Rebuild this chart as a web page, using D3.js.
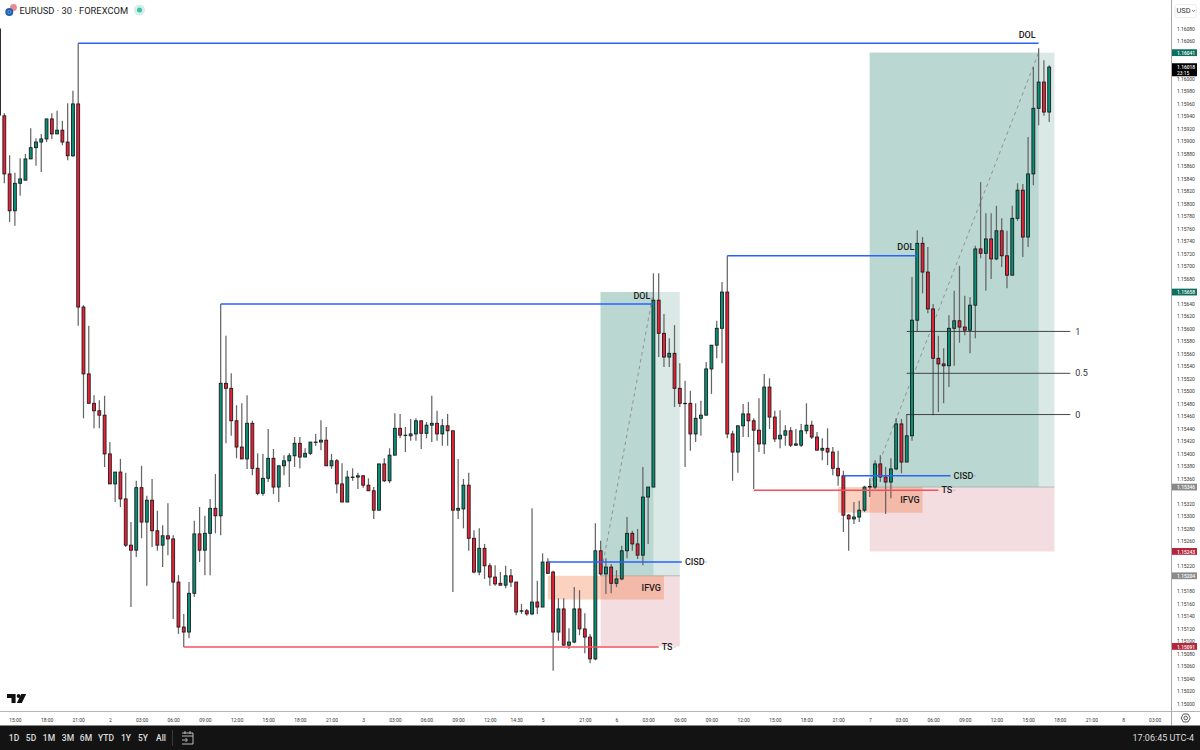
<!DOCTYPE html>
<html lang="en">
<head>
<meta charset="UTF-8">
<title>EURUSD 30</title>
<script src="https://cdn.jsdelivr.net/npm/d3@7"></script>
<style>
    html,body{margin:0;padding:0;background:#fff;}
    svg{display:block;font-family:Roboto,"Liberation Sans",sans-serif;}
    .axis text{font-family:Roboto,"Liberation Sans",sans-serif;font-size:6px;fill:#333;}
    .axis path,.axis line{display:none;}
    .tag{font-size:9px;font-weight:500;fill:#1c1c1c;}
    .range{font-size:8.5px;font-weight:500;fill:#ddd;text-anchor:middle;}
</style>
</head>
<body>
<script>
// candles, one per 30 minutes
const opens = [
1.16079,1.15940,1.15847,1.15788,1.15832,1.15837,1.15871,1.15889,1.15898,1.15903,
1.15935,1.15911,1.15917,1.15898,1.15876,1.15959,1.15634,1.15527,1.15480,1.15468,
1.15461,1.15399,1.15351,1.15370,1.15327,1.15253,1.15245,1.15345,1.15290,1.15325,
1.15276,1.15253,1.15268,1.15263,1.15194,1.15122,1.15114,1.15176,1.15271,1.15245,
1.15272,1.15312,1.15300,1.15512,1.15504,1.15452,1.15410,1.15391,1.15448,1.15376,
1.15336,1.15360,1.15392,1.15346,1.15380,1.15388,1.15396,1.15416,1.15394,1.15400,
1.15418,1.15418,1.15421,1.15380,1.15388,1.15351,1.15322,1.15362,1.15362,1.15364,
1.15349,1.15340,1.15309,1.15383,1.15356,1.15397,1.15440,1.15429,1.15428,1.15431,
1.15452,1.15432,1.15445,1.15448,1.15431,1.15444,1.15436,1.15309,1.15311,1.15349,
1.15264,1.15210,1.15248,1.15220,1.15202,1.15192,1.15189,1.15204,1.15194,1.15148,
1.15148,1.15143,1.15162,1.15154,1.15226,1.15210,1.15114,1.15151,1.15093,1.15098,
1.15151,1.15119,1.15106,1.15071,1.15244,1.15207,1.15218,1.15192,1.15199,1.15244,
1.15272,1.15255,1.15237,1.15330,1.15346,1.15645,1.15592,1.15554,1.15560,1.15504,
1.15480,1.15480,1.15431,1.15456,1.15461,1.15535,1.15573,1.15600,1.15658,1.15431,
1.15402,1.15444,1.15463,1.15452,1.15437,1.15415,1.15506,1.15458,1.15423,1.15429,
1.15436,1.15413,1.15413,1.15436,1.15445,1.15426,1.15405,1.15408,1.15402,1.15376,
1.15364,1.15301,1.15295,1.15298,1.15309,1.15346,1.15346,1.15383,1.15362,1.15354,
1.15375,1.15447,1.15386,1.15428,1.15613,1.15736,1.15690,1.15631,1.15552,1.15543,
1.15540,1.15600,1.15612,1.15602,1.15597,1.15637,1.15727,1.15720,1.15743,1.15711,
1.15756,1.15716,1.15685,1.15776,1.15821,1.15746,1.15847,1.15952,1.15994,1.15946];
const highs = [
1.16079,1.15944,1.15877,1.15849,1.15872,1.15879,1.15920,1.15904,1.15911,1.15935,
1.15944,1.15948,1.15932,1.15960,1.15980,1.16056,1.15637,1.15604,1.15493,1.15485,
1.15492,1.15418,1.15370,1.15391,1.15369,1.15290,1.15356,1.15380,1.15332,1.15359,
1.15308,1.15285,1.15320,1.15269,1.15205,1.15143,1.15194,1.15292,1.15314,1.15300,
1.15327,1.15367,1.15639,1.15588,1.15528,1.15477,1.15480,1.15493,1.15452,1.15400,
1.15399,1.15439,1.15407,1.15380,1.15397,1.15400,1.15426,1.15426,1.15408,1.15418,
1.15431,1.15453,1.15442,1.15399,1.15391,1.15384,1.15372,1.15376,1.15369,1.15365,
1.15360,1.15346,1.15383,1.15392,1.15408,1.15464,1.15463,1.15442,1.15455,1.15456,
1.15452,1.15450,1.15492,1.15468,1.15455,1.15463,1.15436,1.15391,1.15359,1.15369,
1.15277,1.15280,1.15255,1.15224,1.15221,1.15210,1.15220,1.15215,1.15194,1.15159,
1.15151,1.15312,1.15196,1.15240,1.15232,1.15212,1.15168,1.15168,1.15120,1.15186,
1.15181,1.15144,1.15111,1.15288,1.15260,1.15232,1.15223,1.15213,1.15252,1.15298,
1.15276,1.15279,1.15378,1.15346,1.15688,1.15688,1.15623,1.15584,1.15605,1.15544,
1.15516,1.15500,1.15480,1.15484,1.15546,1.15573,1.15612,1.15674,1.15716,1.15436,
1.15444,1.15479,1.15482,1.15456,1.15488,1.15527,1.15520,1.15468,1.15469,1.15445,
1.15442,1.15439,1.15447,1.15480,1.15452,1.15434,1.15424,1.15440,1.15410,1.15404,
1.15372,1.15303,1.15322,1.15324,1.15348,1.15360,1.15389,1.15397,1.15378,1.15392,
1.15456,1.15455,1.15463,1.15682,1.15757,1.15746,1.15730,1.15639,1.15588,1.15568,
1.15621,1.15660,1.15700,1.15652,1.15650,1.15732,1.15834,1.15784,1.15784,1.15796,
1.15776,1.15756,1.15796,1.15832,1.15831,1.15906,1.16018,1.16048,1.16029,1.16021];
const lows = [
1.15941,1.15832,1.15770,1.15764,1.15812,1.15837,1.15871,1.15860,1.15850,1.15898,
1.15903,1.15911,1.15893,1.15869,1.15874,1.15604,1.15456,1.15480,1.15440,1.15440,
1.15378,1.15351,1.15322,1.15314,1.15250,1.15154,1.15234,1.15264,1.15188,1.15250,
1.15244,1.15218,1.15237,1.15135,1.15111,1.15090,1.15104,1.15170,1.15226,1.15205,
1.15205,1.15272,1.15269,1.15416,1.15428,1.15392,1.15391,1.15375,1.15365,1.15333,
1.15332,1.15354,1.15335,1.15322,1.15365,1.15346,1.15378,1.15376,1.15394,1.15397,
1.15412,1.15405,1.15380,1.15375,1.15336,1.15322,1.15322,1.15356,1.15343,1.15345,
1.15340,1.15295,1.15309,1.15354,1.15352,1.15397,1.15424,1.15402,1.15420,1.15420,
1.15407,1.15424,1.15418,1.15420,1.15412,1.15412,1.15178,1.15295,1.15280,1.15244,
1.15208,1.15205,1.15199,1.15188,1.15188,1.15188,1.15184,1.15186,1.15141,1.15143,
1.15140,1.15141,1.15143,1.15154,1.15207,1.15052,1.15100,1.15093,1.15087,1.15096,
1.15109,1.15080,1.15064,1.15069,1.15205,1.15175,1.15176,1.15186,1.15197,1.15232,
1.15244,1.15231,1.15221,1.15255,1.15346,1.15554,1.15538,1.15538,1.15474,1.15474,
1.15378,1.15404,1.15418,1.15428,1.15461,1.15495,1.15552,1.15544,1.15424,1.15356,
1.15369,1.15426,1.15426,1.15343,1.15402,1.15399,1.15439,1.15418,1.15408,1.15412,
1.15410,1.15412,1.15410,1.15431,1.15423,1.15405,1.15389,1.15381,1.15365,1.15348,
1.15274,1.15244,1.15287,1.15290,1.15306,1.15330,1.15343,1.15354,1.15303,1.15328,
1.15373,1.15368,1.15386,1.15420,1.15594,1.15656,1.15624,1.15461,1.15466,1.15480,
1.15506,1.15540,1.15577,1.15589,1.15560,1.15584,1.15712,1.15660,1.15679,1.15709,
1.15698,1.15664,1.15685,1.15772,1.15714,1.15730,1.15829,1.15925,1.15940,1.15930];
const closes = [
1.15941,1.15847,1.15788,1.15832,1.15839,1.15871,1.15889,1.15898,1.15903,1.15935,
1.15911,1.15917,1.15898,1.15876,1.15959,1.15634,1.15527,1.15480,1.15468,1.15461,
1.15399,1.15351,1.15370,1.15327,1.15253,1.15245,1.15345,1.15290,1.15325,1.15276,
1.15253,1.15268,1.15263,1.15194,1.15122,1.15114,1.15176,1.15271,1.15245,1.15272,
1.15312,1.15300,1.15512,1.15504,1.15452,1.15410,1.15391,1.15448,1.15376,1.15336,
1.15360,1.15392,1.15346,1.15380,1.15388,1.15396,1.15416,1.15394,1.15400,1.15418,
1.15418,1.15421,1.15380,1.15388,1.15351,1.15322,1.15362,1.15362,1.15364,1.15349,
1.15340,1.15309,1.15383,1.15356,1.15397,1.15440,1.15429,1.15429,1.15431,1.15452,
1.15432,1.15445,1.15448,1.15431,1.15444,1.15436,1.15309,1.15312,1.15349,1.15264,
1.15210,1.15248,1.15220,1.15202,1.15191,1.15189,1.15204,1.15194,1.15146,1.15148,
1.15143,1.15162,1.15154,1.15226,1.15208,1.15114,1.15151,1.15093,1.15098,1.15151,
1.15119,1.15106,1.15071,1.15244,1.15207,1.15218,1.15192,1.15199,1.15244,1.15272,
1.15255,1.15237,1.15330,1.15346,1.15645,1.15592,1.15554,1.15560,1.15504,1.15480,
1.15480,1.15431,1.15456,1.15461,1.15535,1.15573,1.15600,1.15658,1.15431,1.15402,
1.15444,1.15463,1.15452,1.15437,1.15415,1.15506,1.15458,1.15423,1.15429,1.15436,
1.15413,1.15415,1.15436,1.15445,1.15426,1.15405,1.15408,1.15402,1.15376,1.15364,
1.15301,1.15295,1.15298,1.15309,1.15346,1.15347,1.15383,1.15362,1.15354,1.15375,
1.15447,1.15386,1.15428,1.15613,1.15736,1.15690,1.15631,1.15552,1.15543,1.15540,
1.15600,1.15612,1.15602,1.15597,1.15637,1.15727,1.15720,1.15743,1.15711,1.15756,
1.15716,1.15685,1.15776,1.15821,1.15746,1.15847,1.15952,1.15994,1.15946,1.16018];

// time axis, position is the candle number
const timeTickBars = [3,9,15,21,27,33,39,45,51,57,63,69,75,81,87,93,98,103,111,117,123,129,135,141,147,153,159,165,171,177,183,189,195,201,207,213,219];
const timeTickLabels = ['15:00','18:00','21:00','2','03:00','06:00','09:00','12:00','15:00','18:00','21:00','3','03:00','06:00','09:00','12:00','14:30','5','21:00','6','03:00','06:00','09:00','12:00','15:00','18:00','21:00','7','03:00','06:00','09:00','12:00','15:00','18:00','21:00','8','03:00'];

// long position tools
const toolFrom = [114,165];
const toolTo = [129,200];
const toolFilledTo = [124,197];
const toolTarget = [1.15658,1.16041];
const toolEntry = [1.15204,1.15346];
const toolStop = [1.15091,1.15243];

// fair value gap boxes
const gapFrom = [104,159];
const gapTo = [126,175];
const gapTop = [1.15204,1.15346];
const gapBottom = [1.15166,1.15305];
const gapNames = ['IFVG','IFVG'];

// horizontal levels
const levelNames = ['DOL','DOL','DOL','CISD','CISD','TS','TS'];
const levelFrom = [15,42,138,104,160,35,143];
const levelTo = [197,124,174,129.4,180.3,125,178];
const levelPrice = [1.16056,1.15639,1.15716,1.15226,1.15364,1.15090,1.15341];

// fib levels
const fibNames = ['1','0.5','0'];
const fibPrice = [1.15595,1.15528,1.15462];
const fibFrom = 172;
const fibTo = 203;

// price scale tags
const tagPrices = [1.16041,1.15658,1.15346,1.15243,1.15204,1.15091];
const tagKinds = ['target','target','entry','stop','entry','stop'];
const lastPrice = 1.16018;
const lastCountdown = '23:15';

const rangeButtons = ['1D','5D','1M','3M','6M','YTD','1Y','5Y','All'];
const rangeButtonX = [14,31,49,68,86,106,126,143,161];

var width = 1200, height = 750;
var axisX = 1171.5, axisY = 711.5, barTop = 725.5;
var up = '#0a8f77', down = '#ea2239';
var tagColor = {target:'#0d6e5e', entry:'#8a8a8a', stop:'#b3263a'};

var x = d3.scaleLinear().domain([0,199]).range([-0.95,1049.2]);
var y = d3.scaleLinear().domain([1.15,1.1608]).range([703.3,28.3]);

var svg = d3.select('body').append('svg').attr('width',width).attr('height',height);

// the scale font is narrower than Roboto, squeeze the small labels to fit
function squeeze(sel){
    sel.each(function(){
        d3.select(this).attr('textLength',this.getComputedTextLength()*0.82).attr('lengthAdjust','spacingAndGlyphs');
    });
}

/***** long position tools *****/
var tools = d3.range(toolFrom.length);
svg.append('g').selectAll('rect').data(tools).enter().append('rect')
    .attr('x',function(i){return x(toolFrom[i])})
    .attr('y',function(i){return y(toolTarget[i])})
    .attr('width',function(i){return x(toolTo[i])-x(toolFrom[i])})
    .attr('height',function(i){return y(toolEntry[i])-y(toolTarget[i])})
    .attr('fill','#dae9e5');
svg.append('g').selectAll('rect').data(tools).enter().append('rect')
    .attr('x',function(i){return x(toolFrom[i])})
    .attr('y',function(i){return y(toolTarget[i])})
    .attr('width',function(i){return x(toolFilledTo[i])-x(toolFrom[i])})
    .attr('height',function(i){return y(toolEntry[i])-y(toolTarget[i])})
    .attr('fill','#bbd7d1');
svg.append('g').selectAll('rect').data(tools).enter().append('rect')
    .attr('x',function(i){return x(toolFrom[i])})
    .attr('y',function(i){return y(toolEntry[i])})
    .attr('width',function(i){return x(toolTo[i])-x(toolFrom[i])})
    .attr('height',function(i){return y(toolStop[i])-y(toolEntry[i])})
    .attr('fill','#f4dde0');
svg.append('g').selectAll('line').data(tools).enter().append('line')
    .attr('x1',function(i){return x(toolFrom[i])})
    .attr('y1',function(i){return y(toolEntry[i])})
    .attr('x2',function(i){return x(toolFilledTo[i])})
    .attr('y2',function(i){return y(toolTarget[i])})
    .attr('stroke','#929292')
    .attr('stroke-width',1)
    .attr('stroke-dasharray','3.5,3.5');
svg.append('g').selectAll('line').data(tools).enter().append('line')
    .attr('x1',function(i){return x(toolFrom[i])})
    .attr('y1',function(i){return y(toolEntry[i])})
    .attr('x2',function(i){return x(toolTo[i])})
    .attr('y2',function(i){return y(toolEntry[i])})
    .attr('stroke','#9fb0ab')
    .attr('stroke-width',0.8);

/***** gap boxes *****/
svg.append('g').selectAll('rect').data(d3.range(gapFrom.length)).enter().append('rect')
    .attr('x',function(i){return x(gapFrom[i])})
    .attr('y',function(i){return y(gapTop[i])})
    .attr('width',function(i){return x(gapTo[i])-x(gapFrom[i])})
    .attr('height',function(i){return y(gapBottom[i])-y(gapTop[i])})
    .attr('fill','#f26b2a')
    .attr('fill-opacity',0.3);

/***** candles *****/
var bars = svg.append('g').selectAll('g').data(d3.range(opens.length)).enter().append('g');
bars.append('line')
    .attr('x1',function(i){return x(i)})
    .attr('x2',function(i){return x(i)})
    .attr('y1',function(i){return y(highs[i])})
    .attr('y2',function(i){return y(lows[i])})
    .attr('stroke','#666')
    .attr('stroke-width',1.25);
bars.append('rect')
    .attr('x',function(i){return x(i)-1.45})
    .attr('width',2.9)
    .attr('y',function(i){return y(Math.max(opens[i],closes[i]))})
    .attr('height',function(i){return Math.max(0.4,Math.abs(y(opens[i])-y(closes[i])))})
    .attr('fill',function(i){return closes[i]>=opens[i]?up:down})
    .attr('stroke','#161616')
    .attr('stroke-width',0.85);

/***** levels *****/
var levels = d3.range(levelNames.length);
svg.append('g').selectAll('line').data(levels).enter().append('line')
    .attr('x1',function(i){return x(levelFrom[i])})
    .attr('x2',function(i){return x(levelTo[i])})
    .attr('y1',function(i){return y(levelPrice[i])})
    .attr('y2',function(i){return y(levelPrice[i])})
    .attr('stroke',function(i){return levelNames[i]=='TS'?'#f4505f':'#2962ff'})
    .attr('stroke-width',1.6);
svg.append('g').selectAll('text').data(levels).enter().append('text')
    .attr('class','tag')
    .attr('x',function(i){return levelNames[i]=='DOL'?x(levelTo[i])-3:x(levelTo[i])+3})
    .attr('y',function(i){return levelNames[i]=='DOL'?y(levelPrice[i])-8.5:y(levelPrice[i])})
    .attr('dy','0.35em')
    .attr('text-anchor',function(i){return levelNames[i]=='DOL'?'end':'start'})
    .text(function(i){return levelNames[i]});
// the line shows again for a moment behind its label
svg.append('g').selectAll('line').data(levels.filter(function(i){return levelNames[i]!='DOL'})).enter().append('line')
    .attr('x1',function(i){return x(levelTo[i])+(levelNames[i]=='TS'?15:23)})
    .attr('x2',function(i){return x(levelTo[i])+(levelNames[i]=='TS'?17:25)})
    .attr('y1',function(i){return y(levelPrice[i])})
    .attr('y2',function(i){return y(levelPrice[i])})
    .attr('stroke',function(i){return levelNames[i]=='TS'?'#f4505f':'#2962ff'})
    .attr('stroke-opacity',0.35)
    .attr('stroke-width',1.3);
svg.append('g').selectAll('text').data(d3.range(gapNames.length)).enter().append('text')
    .attr('class','tag')
    .attr('x',function(i){return x(gapTo[i])-3})
    .attr('y',function(i){return (y(gapTop[i])+y(gapBottom[i]))/2})
    .attr('dy','0.35em')
    .attr('text-anchor','end')
    .text(function(i){return gapNames[i]});

/***** fib *****/
var fibs = d3.range(fibNames.length);
svg.append('g').selectAll('line').data(fibs).enter().append('line')
    .attr('x1',x(fibFrom)).attr('x2',x(fibTo))
    .attr('y1',function(i){return y(fibPrice[i])})
    .attr('y2',function(i){return y(fibPrice[i])})
    .attr('stroke','#333')
    .attr('stroke-width',0.9);
svg.append('g').selectAll('text').data(fibs).enter().append('text')
    .attr('x',x(fibTo)+5)
    .attr('y',function(i){return y(fibPrice[i])})
    .attr('dy','0.35em')
    .attr('font-size',9)
    .attr('fill','#333')
    .text(function(i){return fibNames[i]});

/***** axes *****/
svg.append('g').attr('class','axis')
    .attr('transform','translate(0,'+(axisY+3.5)+')')
    .call(d3.axisBottom(x).tickValues(timeTickBars).tickSize(0).tickFormat(function(d,i){return timeTickLabels[i]}))
    .selectAll('text').call(squeeze);

// ticks that sit right under a price tag are hidden by it
var priceTicks = d3.range(0,55).map(function(k){return 1.15+k*0.0002}).filter(function(p){
    return tagPrices.concat(lastPrice).every(function(t){return Math.abs(t-p)>0.000075});
});
svg.append('g').attr('class','axis')
    .attr('transform','translate('+(axisX+2.5)+',0)')
    .call(d3.axisRight(y).tickValues(priceTicks).tickSize(0).tickFormat(d3.format('.5f')))
    .selectAll('text').call(squeeze);

svg.append('line').attr('x1',0).attr('x2',width).attr('y1',axisY).attr('y2',axisY).attr('stroke','#b5b5b5').attr('stroke-width',1);
svg.append('line').attr('x1',axisX).attr('x2',axisX).attr('y1',0).attr('y2',barTop).attr('stroke','#a8a8a8').attr('stroke-width',1);

// price tags
var tags = svg.append('g').selectAll('g').data(d3.range(tagPrices.length)).enter().append('g');
tags.append('rect')
    .attr('x',axisX+0.5)
    .attr('y',function(i){return y(tagPrices[i])-3.4})
    .attr('width',25)
    .attr('height',6.8)
    .attr('fill',function(i){return tagColor[tagKinds[i]]});
tags.append('text')
    .attr('x',axisX+5.5)
    .attr('y',function(i){return y(tagPrices[i])})
    .attr('dy','0.35em')
    .attr('font-size',6)
    .attr('font-weight',500)
    .attr('fill','#fff')
    .text(function(i){return d3.format('.5f')(tagPrices[i])})
    .call(squeeze);

svg.append('rect').attr('x',axisX+0.5).attr('y',y(lastPrice)-3.8).attr('width',25).attr('height',13).attr('fill','#000');
svg.append('text').attr('x',axisX+5.5).attr('y',y(lastPrice)).attr('dy','0.35em').attr('font-size',6).attr('font-weight',500).attr('fill','#fff').text(d3.format('.5f')(lastPrice)).call(squeeze);
svg.append('text').attr('x',axisX+5.5).attr('y',y(lastPrice)+6).attr('dy','0.35em').attr('font-size',6).attr('fill','#fff').text(lastCountdown).call(squeeze);

// currency button
svg.append('rect').attr('x',1175).attr('y',4.5).attr('width',21.5).attr('height',13).attr('rx',2.5).attr('fill','#fff').attr('stroke','#eaeaea').attr('stroke-width',0.8);
svg.append('text').attr('x',1176.5).attr('y',10.5).attr('dy','0.35em').attr('font-size',7.4).attr('fill','#333').text('USD');
svg.append('path').attr('d','M1192 10 l1.6 1.6 l1.6 -1.6').attr('fill','none').attr('stroke','#444').attr('stroke-width',0.7);

// settings icon
svg.append('path').attr('d',d3.line()(d3.range(6).map(function(k){var a=k*Math.PI/3;return [1185.7+4.6*Math.cos(a),718+4.6*Math.sin(a)]}))+'Z').attr('fill','none').attr('stroke','#333').attr('stroke-width',0.8);
svg.append('circle').attr('cx',1185.7).attr('cy',718).attr('r',1.8).attr('fill','none').attr('stroke','#333').attr('stroke-width',0.8);

/***** header *****/
svg.append('circle').attr('cx',13.5).attr('cy',7.5).attr('r',3.4).attr('fill','#e98a92');
svg.append('circle').attr('cx',9.3).attr('cy',12).attr('r',4).attr('fill','#1f5fae');
svg.append('circle').attr('cx',9.3).attr('cy',12).attr('r',1.6).attr('fill','none').attr('stroke','#8fb4e0').attr('stroke-width',0.6);
svg.append('text').attr('x',19.5).attr('y',10.5).attr('dy','0.35em').attr('font-size',9.35).attr('fill','#222').text('EURUSD · 30 · FOREXCOM');
svg.append('circle').attr('cx',139.5).attr('cy',10).attr('r',5.5).attr('fill','#d2efe9');
svg.append('circle').attr('cx',139.5).attr('cy',10).attr('r',2.5).attr('fill','#3dbfa8');

/***** logo *****/
svg.append('path').attr('d','M7 694h8.6v9h-4.1v-5H7z M21.2 694h5l-4.4 9h-5z').attr('fill','#111');
svg.append('circle').attr('cx',18.6).attr('cy',696).attr('r',1.9).attr('fill','#111');

/***** bottom bar *****/
svg.append('rect').attr('x',0).attr('y',barTop).attr('width',width).attr('height',height-barTop).attr('fill','#131313');
svg.append('g').selectAll('text').data(rangeButtons).enter().append('text')
    .attr('class','range')
    .attr('x',function(d,i){return rangeButtonX[i]})
    .attr('y',738)
    .attr('dy','0.35em')
    .text(function(d){return d});
svg.append('line').attr('x1',172.5).attr('x2',172.5).attr('y1',730).attr('y2',746).attr('stroke','#3a3a3a');
svg.append('path').attr('d','M182 733h11v11h-11 M182 736h11 M185 731v3 M190 731v3 M182 740h5 M185.5 738l2 2l-2 2')
    .attr('fill','none').attr('stroke','#ccc').attr('stroke-width',0.9);
svg.append('text').attr('x',1194).attr('y',738).attr('dy','0.35em').attr('text-anchor','end').attr('font-size',9).attr('fill','#ddd').text('17:06:45 UTC-4');
</script>
</body>
</html>
